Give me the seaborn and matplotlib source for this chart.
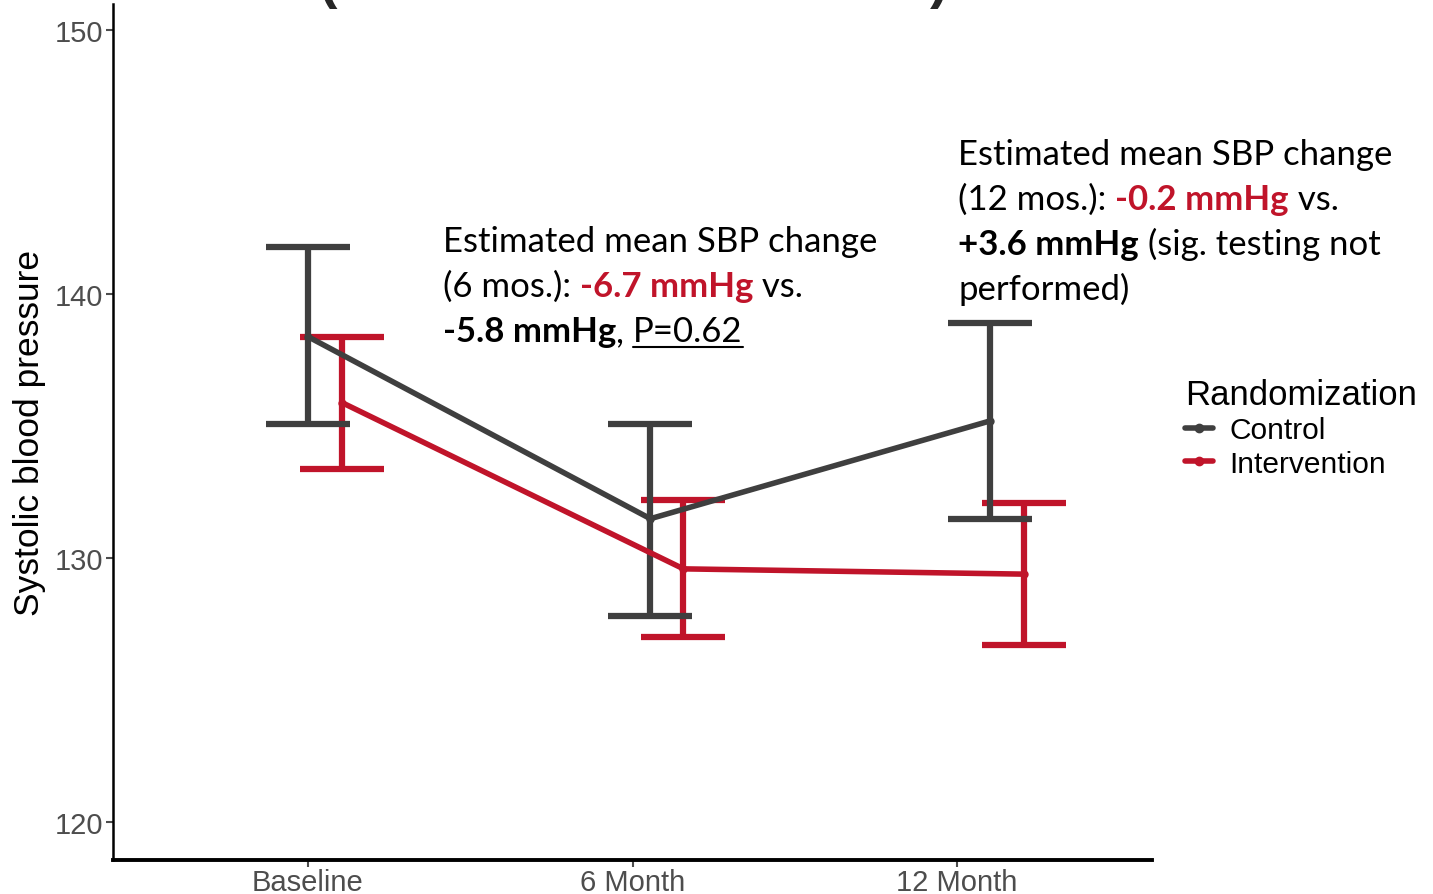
import matplotlib.pyplot as plt
import pandas as pd
import seaborn as sns
from matplotlib.lines import Line2D

# data
visits = ['Baseline', '6 Month', '12 Month']
groups = ['Control', 'Intervention']
control_mean = [138.4, 131.5, 135.2]
control_lo = [135.1, 127.8, 131.5]
control_hi = [141.8, 135.1, 138.9]
interv_mean = [135.9, 129.6, 129.4]
interv_lo = [133.4, 127.0, 126.7]
interv_hi = [138.4, 132.2, 132.1]

# layout / style
dodge = {'Control': [0.0, 0.055, 0.10], 'Intervention': [0.105, 0.157, 0.206]}
colors = {'Control': '#3f3f3f', 'Intervention': '#c0142a'}
W, H = 1433, 895

rows = []
for g, m, lo, hi in [('Control', control_mean, control_lo, control_hi),
                     ('Intervention', interv_mean, interv_lo, interv_hi)]:
    for i, v in enumerate(visits):
        rows.append({'visit': v, 'group': g, 'x': i + dodge[g][i],
                     'mean': m[i], 'lo': lo[i], 'hi': hi[i]})
df = pd.DataFrame(rows)

sns.set_style('white')
plt.rcParams['font.family'] = ['Liberation Sans', 'DejaVu Sans']

fig = plt.figure(figsize=(W / 100, H / 100), dpi=100)
ax = fig.add_axes([113 / W, 1 - 861 / H, (1152 - 113) / W, (861 - 5) / H])

for g in ['Intervention', 'Control']:
    d = df[df['group'] == g]
    ax.errorbar(d['x'], d['mean'], yerr=[d['mean'] - d['lo'], d['hi'] - d['mean']],
                fmt='none', ecolor=colors[g], elinewidth=4.5, capsize=30, capthick=4.5, zorder=2)
sns.lineplot(data=df, x='x', y='mean', hue='group', hue_order=['Intervention', 'Control'],
             palette=colors, linewidth=4, marker='o', markersize=6, markeredgewidth=0,
             estimator=None, sort=True, legend=False, ax=ax, zorder=3)

ax.set_xlim(-0.6, 2.6)
ax.set_ylim(118.57, 151.0)
ax.set_xticks(range(len(visits)))
ax.set_xticklabels(visits)
ax.set_yticks([120, 130, 140, 150])
ax.set_xlabel('')
ax.set_ylabel('Systolic blood pressure', fontsize=25.5, color='black', labelpad=6)
ax.tick_params(axis='both', labelsize=21, colors='#4d4d4d', length=5, width=1.5,
               direction='out', pad=2, bottom=True, left=True)
ax.tick_params(axis='x', pad=1)
for s in ['top', 'right']:
    ax.spines[s].set_visible(False)
ax.spines['left'].set_linewidth(1.8)
ax.spines['bottom'].set_linewidth(2.8)
ax.spines['left'].set_color('black')
ax.spines['bottom'].set_color('black')

handles = [Line2D([], [], color=colors[g], lw=4, marker='o', markersize=6) for g in groups]
leg = fig.legend(handles, groups, title='Randomization', loc='upper left',
                 bbox_to_anchor=(1158 / W, 1 - 352 / H), frameon=False, fontsize=21.5,
                 title_fontsize=25, handlelength=0.95, handletextpad=0.55,
                 labelspacing=0.18, alignment='left')
for t in leg.get_texts():
    t.set_color('black')
leg.get_title().set_color('black')

# cut-off title parentheses
fig.text(318 / W, 1 + 3 / H, '(', fontsize=40, fontweight='bold', va='baseline')
fig.text(930 / W, 1 + 3 / H, ')', fontsize=40, fontweight='bold', va='baseline')

# rich annotations
RED = '#c0142a'
renderer = fig.canvas.get_renderer()


def rich(x_px, y_px, lines, step=45):
    for k, segs in enumerate(lines):
        x = x_px
        y = y_px + k * step
        for txt, col, wt, ul in segs:
            t = fig.text(x / W, 1 - y / H, txt, fontsize=25, color=col, fontweight=wt,
                         family=['Lato', 'DejaVu Sans'], va='baseline', ha='left')
            bb = t.get_window_extent(renderer)
            if ul:
                fig.add_artist(Line2D([bb.x0 / W, bb.x1 / W], [1 - (y + 6) / H] * 2,
                                      color=col, lw=1.5))
            x += bb.width


rich(443, 252, [
    [('Estimated mean SBP change', 'black', 'normal', False)],
    [('(6 mos.): ', 'black', 'normal', False), ('-6.7 mmHg', RED, 'bold', False),
     (' vs.', 'black', 'normal', False)],
    [('-5.8 mmHg', 'black', 'bold', False), (', ', 'black', 'normal', False),
     ('P=0.62', 'black', 'normal', True)],
])
rich(958, 165, [
    [('Estimated mean SBP change', 'black', 'normal', False)],
    [('(12 mos.): ', 'black', 'normal', False), ('-0.2 mmHg', RED, 'bold', False),
     (' vs.', 'black', 'normal', False)],
    [('+3.6 mmHg', 'black', 'bold', False), (' (sig. testing not', 'black', 'normal', False)],
    [('performed)', 'black', 'normal', False)],
])

fig.savefig('out.png', dpi=100)
